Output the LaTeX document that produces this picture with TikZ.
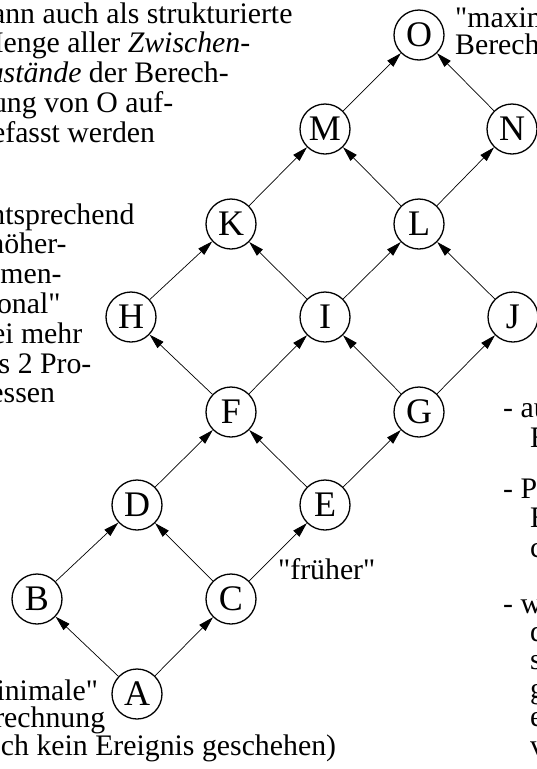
\documentclass[tikz,border=0pt]{standalone}
\usepackage{fontspec}
\setmainfont{Liberation Serif}[Ligatures=TeXOff]
\usetikzlibrary{arrows.meta}
\newcommand\dq{\symbol{"22}}
\begin{document}
\begin{tikzpicture}[x=1pt,y=-1pt,
  state/.style={circle,draw,line width=1.3pt,minimum size=50pt,inner sep=0pt,
    font=\fontsize{36}{36}\selectfont},
  arr/.style={line width=0.7pt,-{Triangle[length=15pt,width=8.5pt]}},
  % multi-line nodes: the base anchor sits on the last line
  txt/.style={anchor=base west,inner sep=0pt,align=left},
  bs/.style={font=\fontsize{29.8}{#1}\selectfont}]
\useasboundingbox (0,0) rectangle (537,769);
\clip (0,0) rectangle (537,769);

% lattice of states
\node[state] (O) at (419,35)  {O};
\node[state] (M) at (325,129) {M};
\node[state] (N) at (512,129) {N};
\node[state] (K) at (231,224) {K};
\node[state] (L) at (419,224) {L};
\node[state] (H) at (131,317) {H};
\node[state] (I) at (325,317) {I};
\node[state] (J) at (513,317) {J};
\node[state] (F) at (231,412) {F};
\node[state] (G) at (419,412) {G};
\node[state] (D) at (137,505) {D};
\node[state] (E) at (325,505) {E};
\node[state] (B) at (37,599)  {B};
\node[state] (C) at (231,599) {C};
\node[state] (A) at (137,694) {A};

% "earlier than" relation
\foreach \s/\t in {A/B,A/C,B/D,C/D,C/E,D/F,E/F,E/G,F/H,F/I,G/I,G/J,
                   H/K,I/K,I/L,J/L,K/M,L/M,L/N,M/O,N/O}
  \draw[arr] (\s) -- (\t);

% annotations
\node[txt,bs=29.8] (t1) at (-23,142.2) {kann auch als strukturierte\\
  Menge aller \textit{Zwischen-}\\
  \textit{zustände} der Berech-\\
  nung von O auf-\\
  gefasst werden};
\node[txt,bs=29.8] (t2) at (-23,402.8) {entsprechend\\
  \dq höher-\\dimen-\\sional\dq\\bei mehr\\als 2 Pro-\\zessen};
\node[txt,bs=27.5] (t3) at (-39,755) {\dq minimale\dq\\Berechnung\\
  (noch kein Ereignis geschehen)};
\node[txt,bs=27] (t4) at (455,54) {\dq maximale\dq\\Berechnung};
\node[txt,bs=29.8] (t5) at (278,579) {\dq früher\dq};

\node[txt,bs=30] (r1) at (503,447) {- au\\\hspace*{27pt}E};
\node[txt,bs=29.5] (r2) at (503,557) {- P\\\hspace*{27pt}E\\\hspace*{27pt}c};
\node[txt,bs=28.4] (r3) at (503,755) {- w\\\hspace*{27pt}d\\\hspace*{27pt}s\\
  \hspace*{27pt}g\\\hspace*{27pt}e\\\hspace*{27pt}v};
\end{tikzpicture}
\end{document}
